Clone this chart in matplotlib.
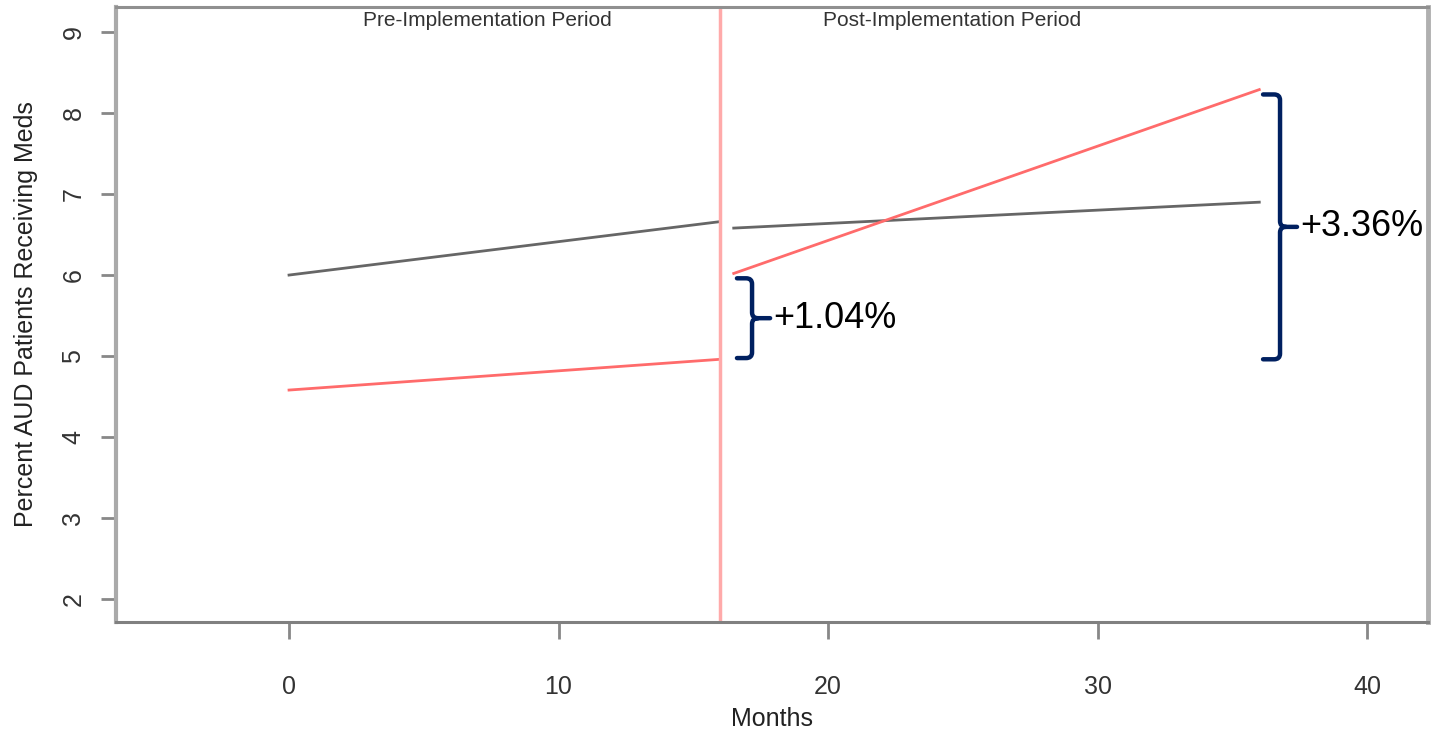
import matplotlib
matplotlib.use("Agg")
import matplotlib.pyplot as plt
from matplotlib.path import Path
from matplotlib.patches import PathPatch

plt.rcParams['font.family'] = ['Liberation Sans', 'DejaVu Sans']

# fitted segments (months, percent)
grey_pre_x = [0, 16]
grey_pre_y = [6.00, 6.66]
grey_post_x = [16.5, 36]
grey_post_y = [6.58, 6.90]
red_pre_x = [0, 16]
red_pre_y = [4.58, 4.96]
red_post_x = [16.5, 36]
red_post_y = [6.02, 8.29]

cutoff = 16
level_change = "+1.04%"
total_change = "+3.36%"

x_ticks = [0, 10, 20, 30, 40]
y_ticks = [2, 3, 4, 5, 6, 7, 8, 9]

navy = '#002060'
tick_col = '#333333'


def bracket(ax, x_left, x_mid, x_tip, y_low, y_high, label):
    y_c = (y_low + y_high) / 2
    rx, ry = 0.22, 0.07
    verts = [(x_left, y_high), (x_mid - rx, y_high),
             (x_mid, y_high), (x_mid, y_high - ry),
             (x_mid, y_c + ry),
             (x_mid, y_c), (x_mid + rx, y_c),
             (x_tip, y_c),
             (x_mid + rx, y_c),
             (x_mid, y_c), (x_mid, y_c - ry),
             (x_mid, y_low + ry),
             (x_mid, y_low), (x_mid - rx, y_low),
             (x_left, y_low)]
    codes = [Path.MOVETO, Path.LINETO,
             Path.CURVE3, Path.CURVE3,
             Path.LINETO,
             Path.CURVE3, Path.CURVE3,
             Path.LINETO,
             Path.MOVETO,
             Path.CURVE3, Path.CURVE3,
             Path.LINETO,
             Path.CURVE3, Path.CURVE3,
             Path.LINETO]
    ax.add_patch(PathPatch(Path(verts, codes), fill=False, edgecolor=navy,
                           lw=3.2, capstyle='round', joinstyle='round'))
    ax.text(x_tip + 0.12, y_c, label, fontsize=26, color='black',
            va='center', ha='left')


fig = plt.figure(figsize=(14.33, 7.29), dpi=100)
ax = fig.add_axes([116 / 1433, 1 - 622 / 729, (1428 - 116) / 1433, (622 - 7) / 729])

ax.plot(grey_pre_x, grey_pre_y, color='#666666', lw=2)
ax.plot(grey_post_x, grey_post_y, color='#666666', lw=2)
ax.plot(red_pre_x, red_pre_y, color='#ff6b6b', lw=2)
ax.plot(red_post_x, red_post_y, color='#ff6b6b', lw=2)
ax.axvline(cutoff, color='#ffaaaa', lw=2.5)

bracket(ax, 16.62, 17.18, 17.85, red_pre_y[1] + 0.015, red_post_y[0] - 0.06, level_change)
bracket(ax, 36.14, 36.77, 37.40, red_pre_y[1], red_post_y[1] - 0.06, total_change)

ax.text(7.35, 0.978, 'Pre-Implementation Period', transform=ax.get_xaxis_transform(),
        ha='center', va='center', fontsize=15, color=tick_col)
ax.text(24.6, 0.978, 'Post-Implementation Period', transform=ax.get_xaxis_transform(),
        ha='center', va='center', fontsize=15, color=tick_col)

ax.set_xlim(-6.42, 42.26)
ax.set_ylim(1.716, 9.31)
ax.set_xticks(x_ticks)
ax.set_yticks(y_ticks)
ax.tick_params(axis='x', length=12, width=2, color='#888888', pad=26,
               labelsize=18, labelcolor=tick_col)
ax.tick_params(axis='y', length=11, width=2, color='#888888', pad=11,
               labelsize=18, labelcolor=tick_col, labelrotation=90)
for lab in ax.get_yticklabels():
    lab.set_va('center')

ax.spines['left'].set_color('#aaaaaa')
ax.spines['left'].set_linewidth(3)
ax.spines['right'].set_color('#b0b0b0')
ax.spines['right'].set_linewidth(3.5)
ax.spines['top'].set_color('#909090')
ax.spines['top'].set_linewidth(2.2)
ax.spines['bottom'].set_color('#808080')
ax.spines['bottom'].set_linewidth(2.2)

ax.set_xlabel('Months', fontsize=18, color='#222222', labelpad=6)
ax.set_ylabel('Percent AUD Patients Receiving Meds', fontsize=18, color='#222222', labelpad=17)

fig.savefig('out.png', dpi=100)
